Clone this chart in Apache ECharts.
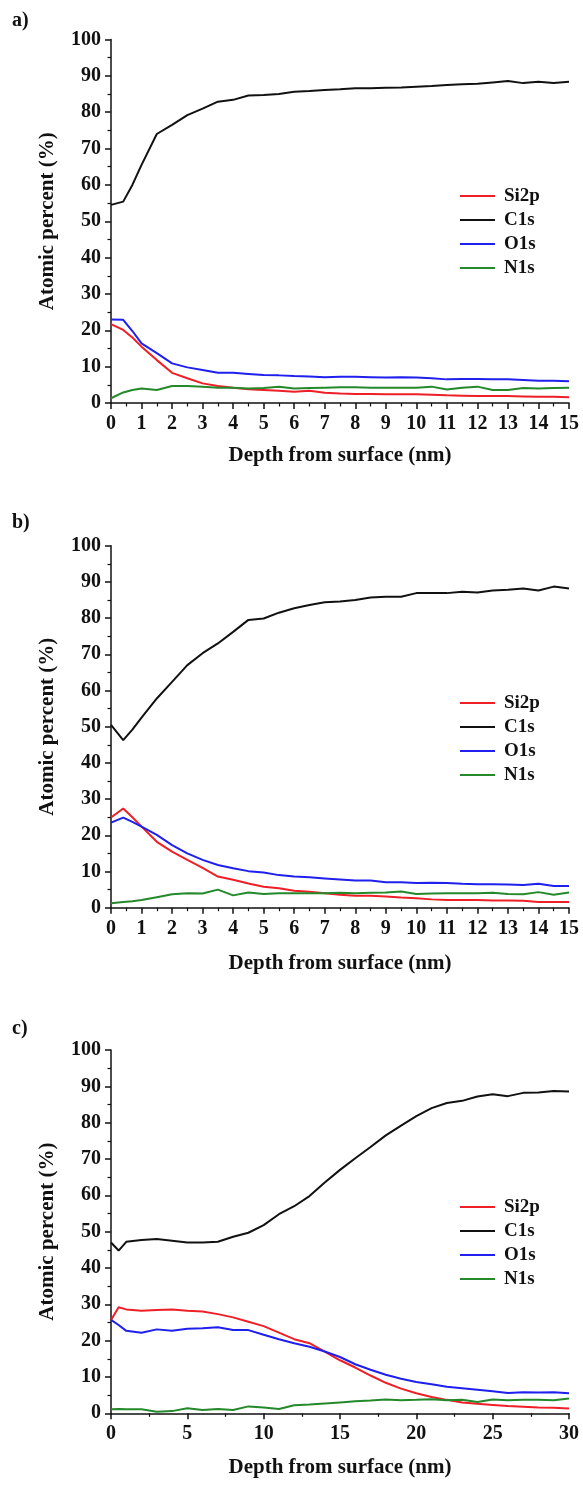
<!DOCTYPE html>
<html><head><meta charset="utf-8">
<script src="https://cdn.jsdelivr.net/npm/echarts@6/dist/echarts.min.js"></script>
<style>html,body{margin:0;padding:0;background:#fff}#c{width:583px;height:1485px}</style>
</head><body><div id="c"></div>
<script>
const seriesNames = ['Si2p','C1s','O1s','N1s'];
const panelLabels = ['a)','b)','c)'];
const xTitle = 'Depth from surface (nm)';
const yTitle = 'Atomic percent (%)';

const depth15 = [0,0.4,0.7,1,1.5,2,2.5,3,3.5,4,4.5,5,5.5,6,6.5,7,7.5,8,8.5,9,9.5,10,10.5,11,11.5,12,12.5,13,13.5,14,14.5,15];
const depth30 = [0,0.5,1,2,3,4,5,6,7,8,9,10,11,12,13,14,15,16,17,18,19,20,21,22,23,24,25,26,27,28,29,30];

// panel a
const aSi2p = [21.7,20.1,18.0,15.5,11.8,8.3,6.8,5.4,4.7,4.2,3.8,3.6,3.4,3.1,3.4,2.8,2.6,2.5,2.5,2.4,2.4,2.4,2.3,2.1,2.0,1.9,1.9,1.9,1.8,1.7,1.7,1.6];
const aC1s  = [54.5,55.4,60.0,65.5,74.0,76.5,79.2,81.0,82.9,83.4,84.6,84.7,85.0,85.6,85.8,86.1,86.3,86.6,86.6,86.7,86.8,87.0,87.2,87.5,87.7,87.8,88.2,88.6,88.0,88.4,88.0,88.4];
const aO1s  = [23.0,22.9,19.8,16.4,13.7,10.9,9.8,9.1,8.3,8.3,8.0,7.7,7.6,7.4,7.3,7.1,7.2,7.2,7.1,7.0,7.1,7.0,6.8,6.5,6.6,6.6,6.5,6.5,6.3,6.1,6.1,6.0];
const aN1s  = [1.3,2.9,3.6,4.0,3.6,4.7,4.7,4.5,4.2,4.2,4.0,4.1,4.5,4.0,4.1,4.2,4.3,4.3,4.2,4.2,4.2,4.2,4.5,3.7,4.2,4.5,3.6,3.6,4.1,4.0,4.1,4.2];
// panel b
const bSi2p = [24.9,27.4,25.0,22.4,18.2,15.5,13.2,11.0,8.6,7.7,6.7,5.8,5.4,4.7,4.4,4.0,3.6,3.3,3.3,3.1,2.8,2.6,2.3,2.1,2.1,2.1,2.0,2.0,1.9,1.6,1.6,1.6];
const bC1s  = [50.5,46.3,49.2,52.5,57.8,62.4,67.0,70.3,73.0,76.2,79.5,79.9,81.5,82.7,83.6,84.4,84.6,85.0,85.7,85.9,85.9,86.9,86.9,86.9,87.3,87.1,87.6,87.8,88.2,87.6,88.7,88.2];
const bO1s  = [23.5,24.9,23.7,22.4,20.1,17.3,15.0,13.2,11.8,10.9,10.1,9.7,9.0,8.6,8.4,8.1,7.8,7.5,7.5,7.0,7.0,6.8,6.9,6.8,6.6,6.5,6.5,6.4,6.3,6.6,6.0,6.0];
const bN1s  = [1.2,1.6,1.8,2.1,2.9,3.7,4.0,3.9,5.0,3.4,4.2,3.8,4.0,4.0,4.0,4.0,4.1,4.0,4.1,4.2,4.5,3.8,3.9,4.0,4.0,4.0,4.1,3.8,3.7,4.3,3.6,4.2];
// panel c
const cSi2p = [25.7,29.2,28.6,28.2,28.4,28.6,28.2,28.0,27.3,26.4,25.2,24.0,22.2,20.4,19.3,17.0,14.6,12.6,10.4,8.4,6.8,5.5,4.5,3.7,3.0,2.6,2.3,2.0,1.8,1.6,1.5,1.3];
const cC1s  = [47.0,44.8,47.2,47.7,48.0,47.5,47.0,47.0,47.2,48.6,49.7,51.8,54.8,57.0,59.8,63.5,67.0,70.2,73.3,76.5,79.2,81.8,84.0,85.4,86.0,87.2,87.8,87.3,88.2,88.3,88.7,88.6];
const cO1s  = [25.7,24.3,22.7,22.2,23.1,22.7,23.3,23.4,23.7,22.9,22.9,21.6,20.4,19.3,18.3,17.0,15.5,13.5,12.0,10.6,9.5,8.6,8.0,7.3,6.9,6.5,6.1,5.6,5.8,5.7,5.8,5.5];
const cN1s  = [1.1,1.2,1.1,1.1,0.4,0.6,1.4,0.9,1.2,0.9,1.9,1.6,1.2,2.2,2.4,2.7,3.0,3.3,3.5,3.8,3.6,3.7,3.9,3.6,3.7,3.1,3.8,3.6,3.7,3.7,3.6,4.1];

const panels = [
  {depth: depth15, vals: [aSi2p,aC1s,aO1s,aN1s], xmax: 15, xint: 1},
  {depth: depth15, vals: [bSi2p,bC1s,bO1s,bN1s], xmax: 15, xint: 1},
  {depth: depth30, vals: [cSi2p,cC1s,cO1s,cN1s], xmax: 30, xint: 5}
];

const colors = ['#ee1f26','#111111','#1f1fee','#23892b'];
const FONT = 'Liberation Serif';
const grids = [
  {left:111, width:458, top:39.5, height:363.5},
  {left:111, width:458, top:545.7, height:362},
  {left:111, width:458, top:1050, height:363.3}
];
const nameGaps = [42, 45, 44];
const legendTops = [186, 693, 1197];
const titleTops = [11, 513, 1019];

const axisLineStyle = {color:'#111', width:1.5};
const option = {
  animation:false,
  backgroundColor:'#fff',
  title: panelLabels.map((t,i)=>({text:t, left:12, top:titleTops[i], padding:0,
    textStyle:{fontFamily:FONT, fontWeight:'bold', fontSize:20, color:'#111'}})),
  grid: grids,
  legend: grids.map((g,i)=>({
    data: seriesNames, orient:'vertical', left:460, top:legendTops[i],
    icon:'rect', itemWidth:35, itemHeight:2, itemGap:4, padding:0,
    textStyle:{fontFamily:FONT, fontWeight:'bold', fontSize:19, color:'#111', lineHeight:20, padding:[0,0,0,4]},
    selectedMode:false
  })),
  xAxis: panels.map((p,i)=>({
    type:'value', gridIndex:i, min:0, max:p.xmax, interval:p.xint,
    name:xTitle, nameLocation:'middle', nameGap:nameGaps[i],
    nameTextStyle:{fontFamily:FONT, fontWeight:'bold', fontSize:21, color:'#111'},
    axisLine:{show:true, onZero:false, lineStyle:axisLineStyle},
    axisTick:{show:true, inside:false, length:6, lineStyle:axisLineStyle},
    minorTick:{show:true, splitNumber:2, length:3.5, lineStyle:{color:'#111', width:1.2}},
    splitLine:{show:false},
    axisLabel:{fontFamily:FONT, fontWeight:'bold', fontSize:20, color:'#111', margin:11}
  })),
  yAxis: panels.map((p,i)=>({
    type:'value', gridIndex:i, min:0, max:100, interval:10,
    name:yTitle, nameLocation:'middle', nameGap:53, nameRotate:90,
    nameTextStyle:{fontFamily:FONT, fontWeight:'bold', fontSize:21, color:'#111'},
    axisLine:{show:true, onZero:false, lineStyle:axisLineStyle},
    axisTick:{show:true, inside:false, length:6, lineStyle:axisLineStyle},
    minorTick:{show:true, splitNumber:2, length:3.5, lineStyle:{color:'#111', width:1.2}},
    splitLine:{show:false},
    axisLabel:{fontFamily:FONT, fontWeight:'bold', fontSize:20, color:'#111', margin:10}
  })),
  series: []
};
panels.forEach((p,i)=>{
  seriesNames.forEach((n,k)=>{
    option.series.push({
      name:n, type:'line', xAxisIndex:i, yAxisIndex:i, symbol:'none',
      data: p.depth.map((d,j)=>[d, p.vals[k][j]]),
      lineStyle:{color:colors[k], width:2}, itemStyle:{color:colors[k]},
      z: k===1 ? 3 : 2
    });
  });
});
const chart = echarts.init(document.getElementById('c'), null, {renderer:'canvas'});
chart.setOption(option);
</script></body></html>
